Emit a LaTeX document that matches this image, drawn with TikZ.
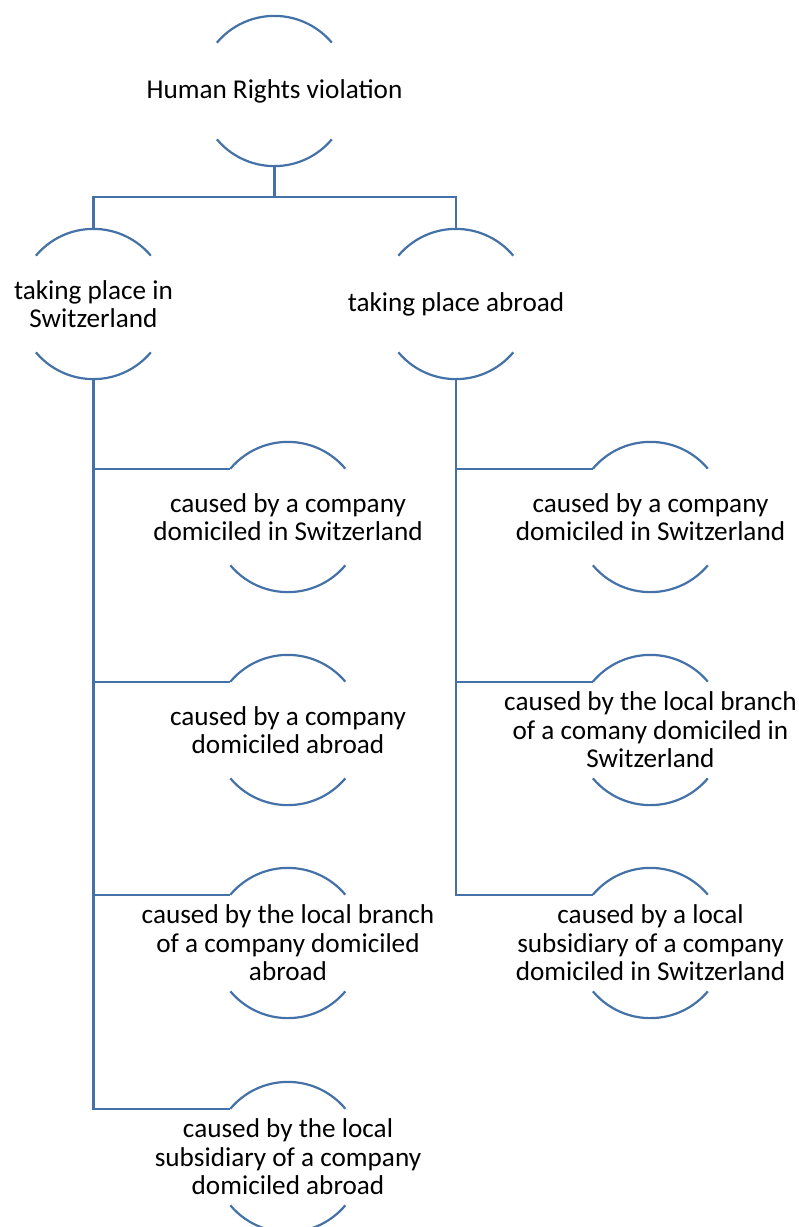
\documentclass[tikz,border=0pt]{standalone}
\usepackage{fontspec}
\setmainfont{Carlito}
\usepackage{tikz}

\definecolor{ringblue}{RGB}{68,114,168}

\tikzset{
  ring/.style={circle, minimum size=150pt, inner sep=0pt},
  ringtext/.style={align=center, text=black, font=\fontsize{27.2pt}{28.5pt}\selectfont},
  link/.style={draw=ringblue, line width=2.2pt},
}

\begin{document}
\begin{tikzpicture}[x=1pt,y=1pt]
\useasboundingbox (0,0) rectangle (799,-1227);

% top
\node[ring, label={[ringtext]center:Human Rights violation}] (root) at (274.5,-91) {};

% where it takes place
\node[ring, label={[ringtext]center:{taking place in\\Switzerland}}] (swiss) at (93.5,-304) {};
\node[ring, label={[ringtext]center:taking place abroad}] (abroad) at (456,-304) {};

% in Switzerland
\node[ring, label={[ringtext]center:{caused by a company\\domiciled in Switzerland}}] (swiss1) at (288,-517) {};
\node[ring, label={[ringtext]center:{caused by a company\\domiciled abroad}}] (swiss2) at (288,-730) {};
\node[ring, label={[ringtext]center:{caused by the local branch\\of a company domiciled\\abroad}}] (swiss3) at (288,-943) {};
\node[ring, label={[ringtext]center:{caused by the local\\subsidiary of a company\\domiciled abroad}}] (swiss4) at (288,-1157) {};

% abroad
\node[ring, label={[ringtext]center:{caused by a company\\domiciled in Switzerland}}] (abroad1) at (650.5,-517) {};
\node[ring, label={[ringtext]center:{caused by the local branch\\of a comany domiciled in\\Switzerland}}] (abroad2) at (650.5,-730) {};
\node[ring, label={[ringtext]center:{caused by a local\\subsidiary of a company\\domiciled in Switzerland}}] (abroad3) at (650.5,-943) {};

% open rings
\foreach \n in {root,swiss,abroad,swiss1,swiss2,swiss3,swiss4,abroad1,abroad2,abroad3}
  \draw[link] (\n.140) arc[start angle=140, end angle=40, radius=75pt]
              (\n.220) arc[start angle=220, end angle=320, radius=75pt];

% connectors
\draw[link] (root.south) -- ++(0,-31) coordinate (bus) -| (swiss.north);
\draw[link] (bus) -| (abroad.north);
\draw[link] (swiss.south) |- (swiss4.140);
\foreach \c in {swiss1,swiss2,swiss3}
  \draw[link] (swiss.south |- \c.140) -- (\c.140);
\draw[link] (abroad.south) |- (abroad3.140);
\foreach \c in {abroad1,abroad2}
  \draw[link] (abroad.south |- \c.140) -- (\c.140);
\end{tikzpicture}
\end{document}
